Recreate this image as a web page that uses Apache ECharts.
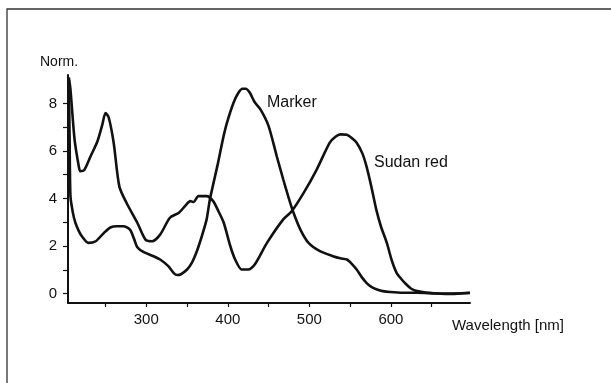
<!DOCTYPE html>
<html>
<head>
<meta charset="utf-8">
<script src="https://cdn.jsdelivr.net/npm/echarts@6/dist/echarts.min.js"></script>
<style>
  html, body { margin: 0; padding: 0; background: #fff; }
  #chart { width: 611px; height: 383px; }
</style>
</head>
<body>
<div id="chart"></div>
<script>
// ---- Data ----
const sudanX = [205, 207, 212, 217, 219, 224, 232, 240, 246, 250, 254, 260, 267, 276, 289, 299, 307, 317, 329, 340, 348, 354, 358, 364, 374, 382, 388, 395, 403, 409, 417, 425, 433, 448, 468, 478, 493, 509, 525, 532, 538, 546, 552, 558, 565, 570, 576, 582, 588, 595, 601, 607, 613, 619, 625, 632, 645, 656, 670, 685, 697];
const sudanY = [9.1, 8.6, 6.5, 5.4, 5.15, 5.2, 5.8, 6.4, 7.1, 7.6, 7.4, 6.35, 4.5, 3.8, 2.98, 2.27, 2.2, 2.48, 3.19, 3.4, 3.7, 3.89, 3.85, 4.1, 4.1, 3.89, 3.5, 2.98, 2.0, 1.43, 1.01, 1.01, 1.22, 2.13, 3.12, 3.45, 4.24, 5.22, 6.35, 6.6, 6.7, 6.68, 6.55, 6.35, 5.9, 5.36, 4.5, 3.54, 2.8, 2.13, 1.4, 0.87, 0.6, 0.38, 0.2, 0.1, 0.03, 0.0, -0.02, 0.0, 0.02];

const markerX = [205, 206, 207, 210, 213, 217, 221, 229, 238, 248, 256, 264, 272, 280, 285, 289, 297, 309, 317, 327, 334, 338, 342, 350, 356, 362, 368, 374, 378, 388, 394, 399, 407, 413, 418, 422, 427, 433, 440, 450, 460, 468, 474, 480, 489, 499, 513, 529, 538, 546, 552, 558, 564, 570, 576, 583, 590, 599, 615, 632, 660, 680, 697];
const markerY = [9.0, 6.5, 4.1, 3.4, 2.98, 2.65, 2.41, 2.13, 2.2, 2.55, 2.78, 2.83, 2.83, 2.69, 2.3, 1.95, 1.74, 1.57, 1.43, 1.15, 0.85, 0.78, 0.8, 1.01, 1.3, 1.78, 2.4, 3.12, 3.96, 5.5, 6.5, 7.19, 8.03, 8.45, 8.62, 8.62, 8.45, 8.05, 7.75, 7.05, 5.78, 4.8, 4.1, 3.45, 2.69, 2.13, 1.78, 1.57, 1.48, 1.43, 1.25, 1.01, 0.7, 0.45, 0.28, 0.17, 0.1, 0.06, 0.03, 0.03, 0.0, 0.0, 0.03];

const xTicks = [250, 300, 350, 400, 450, 500, 550, 600, 650];
const xLabels = [300, 400, 500, 600];
const yTicks = [0, 1, 2, 3, 4, 5, 6, 7, 8];
const yLabels = [0, 2, 4, 6, 8];

const xName = 'Wavelength [nm]';
const yName = 'Norm.';
const markerName = 'Marker';
const sudanName = 'Sudan red';

// ---- Chart ----
const zip = (xs, ys) => xs.map((x, i) => [x, ys[i]]);
const ink = '#111';
const font = '"Liberation Sans", Arial, Helvetica, sans-serif';

const chart = echarts.init(document.getElementById('chart'), null, { renderer: 'canvas' });
chart.setOption({
  animation: false,
  backgroundColor: '#fff',
  grid: { left: 68, right: 141, top: 75, bottom: 80, containLabel: false },
  xAxis: {
    type: 'value',
    min: 204,
    max: 697,
    axisLine: { onZero: false, lineStyle: { color: ink, width: 2 } },
    axisTick: { customValues: xTicks, length: 4, lineStyle: { color: ink, width: 1.2 } },
    axisLabel: { customValues: xLabels, margin: 9, color: ink, fontSize: 15, fontFamily: font },
    splitLine: { show: false }
  },
  yAxis: {
    type: 'value',
    min: -0.4,
    max: 9.2,
    axisLine: { show: true, onZero: false, lineStyle: { color: ink, width: 2 } },
    axisTick: { show: true, customValues: yTicks, length: 5, lineStyle: { color: ink, width: 1.2 } },
    axisLabel: { customValues: yLabels, margin: 11, color: ink, fontSize: 15, fontFamily: font },
    splitLine: { show: false }
  },
  series: [
    {
      name: sudanName,
      type: 'line',
      data: zip(sudanX, sudanY),
      showSymbol: false,
      smooth: 0.25,
      lineStyle: { color: ink, width: 2.6 },
      clip: true
    },
    {
      name: markerName,
      type: 'line',
      data: zip(markerX, markerY),
      showSymbol: false,
      smooth: 0.25,
      lineStyle: { color: ink, width: 2.6 },
      clip: true
    }
  ],
  graphic: [
    { type: 'polyline', shape: { points: [[7, 383], [7, 9], [611, 9]] }, style: { stroke: '#333', lineWidth: 1.3, fill: null } },
    { type: 'text', left: 40, top: 55, style: { text: yName, fontSize: 14, fontFamily: font, fill: ink } },
    { type: 'text', left: 452, top: 318, style: { text: xName, fontSize: 15, fontFamily: font, fill: ink } },
    { type: 'text', left: 267, top: 95, style: { text: markerName, fontSize: 16, fontFamily: font, fill: ink } },
    { type: 'text', left: 374, top: 155, style: { text: sudanName, fontSize: 16, fontFamily: font, fill: ink } }
  ]
});
</script>
</body>
</html>
